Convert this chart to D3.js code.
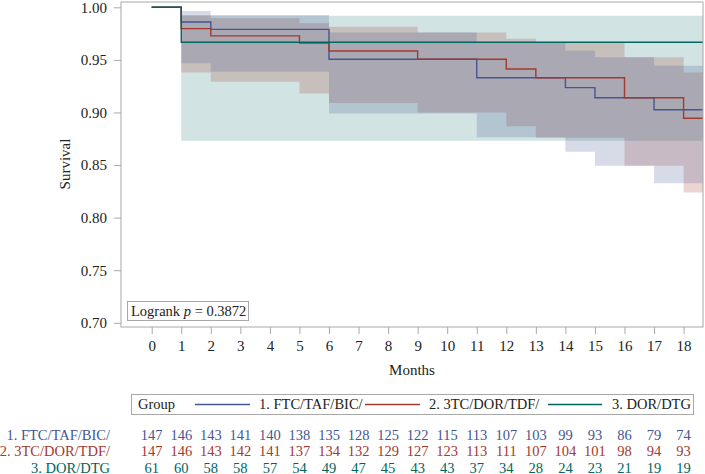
<!DOCTYPE html>
<html><head><meta charset="utf-8">
<script src="https://cdn.jsdelivr.net/npm/d3@7"></script>
<style>body{margin:0;background:#fff}svg{display:block}text{font-family:"Liberation Serif","DejaVu Serif",serif}</style>
</head><body><svg id="c" width="705" height="474"></svg>
<script>
// ---- data ----
const xTicks = [0,1,2,3,4,5,6,7,8,9,10,11,12,13,14,15,16,17,18];
const yTicks = [0.70,0.75,0.80,0.85,0.90,0.95,1.00];
const maxFollowUp = 18.66;
const groupNames = ["1. FTC/TAF/BIC/","2. 3TC/DOR/TDF/","3. DOR/DTG"];
const colors = ["#445694","#A23A2E","#01665E"];

const blueTime = [0,1,2,6,11,14,15,17];
const blueSurv = [1,0.986,0.979,0.9506,0.933,0.9236,0.914,0.9026];
const blueLow  = [1,0.9468,0.9388,0.899,0.8764,0.8627,0.8494,0.8327];
const blueHigh = [1,0.9965,0.9927,0.976,0.966,0.9588,0.9525,0.9445];

const redTime = [0,1,2,5,6,9,12,13,16,18];
const redSurv = [1,0.9797,0.9728,0.966,0.9585,0.9506,0.9413,0.933,0.914,0.8945];
const redLow  = [1,0.938,0.9293,0.918,0.909,0.900,0.887,0.876,0.8494,0.8238];
const redHigh = [1,0.9927,0.9895,0.9848,0.9816,0.976,0.970,0.966,0.9525,0.938];

const tealTime = [0,1];
const tealSurv = [1,0.9667];
const tealLow  = [1,0.873];
const tealHigh = [1,0.992];

const atRiskBlue = [147,146,143,141,140,138,135,128,125,122,115,113,107,103,99,93,86,79,74];
const atRiskRed  = [147,146,143,142,141,137,134,132,129,127,123,113,111,107,104,101,98,94,93];
const atRiskTeal = [61,60,58,58,57,54,49,47,45,43,43,37,34,28,24,23,21,19,19];

const logrankP = "0.3872";

// ---- build ----
const svg = d3.select("#c");
const L = 121, R = 703, T = 2, B = 327;
const x = d3.scaleLinear().domain([0,18]).range([151.7,683.6]);
const y = d3.scaleLinear().domain([0.70,1.00]).range([322.8,7.3]);

function mk(time,s,lo,hi){
  const pts = time.map((t,i)=>({t,s:s[i],lo:lo[i],hi:hi[i]}));
  const last = pts[pts.length-1];
  pts.push({t:maxFollowUp,s:last.s,lo:last.lo,hi:last.hi});
  return pts;
}
const series = [
  {pts:mk(blueTime,blueSurv,blueLow,blueHigh), c:colors[0]},
  {pts:mk(redTime,redSurv,redLow,redHigh), c:colors[1]},
  {pts:mk(tealTime,tealSurv,tealLow,tealHigh), c:colors[2]}
];

svg.append("clipPath").attr("id","clip").append("rect").attr("x",L).attr("y",T).attr("width",R-L).attr("height",B-T);
const plot = svg.append("g").attr("clip-path","url(#clip)");

const area = d3.area().curve(d3.curveStepAfter).x(d=>x(d.t)).y0(d=>y(d.lo)).y1(d=>y(d.hi));
const line = d3.line().curve(d3.curveStepAfter).x(d=>x(d.t)).y(d=>y(d.s));

const bandOrder = [2,1,0];
const bandOp = [0.21,0.21,0.18];
bandOrder.forEach(i=>{
  plot.append("path").attr("d",area(series[i].pts)).attr("fill",series[i].c).attr("fill-opacity",bandOp[i]).attr("stroke","none");
});
[0,1,2].forEach(i=>{
  plot.append("path").attr("d",line(series[i].pts)).attr("fill","none").attr("stroke",series[i].c).attr("stroke-width",1.4);
});

// frame
svg.append("rect").attr("x",L).attr("y",T).attr("width",R-L).attr("height",B-T).attr("fill","none").attr("stroke","#a8a8a8").attr("stroke-width",1);

// y axis
const yAx = svg.append("g").attr("transform",`translate(${L},0)`)
  .call(d3.axisLeft(y).tickValues(yTicks).tickFormat(d3.format(".2f")).tickSize(7).tickPadding(7));
yAx.select(".domain").remove();
yAx.selectAll("line").attr("stroke","#a8a8a8");
yAx.selectAll("text").attr("font-size",15).attr("fill","#222").attr("font-family","Liberation Serif");

// x axis
const xAx = svg.append("g").attr("transform",`translate(0,${B})`)
  .call(d3.axisBottom(x).tickValues(xTicks).tickFormat(d3.format("d")).tickSize(7).tickPadding(6));
xAx.select(".domain").remove();
xAx.selectAll("line").attr("stroke","#a8a8a8");
xAx.selectAll("text").attr("font-size",15).attr("fill","#222").attr("font-family","Liberation Serif");

svg.append("text").attr("x",(L+R)/2).attr("y",375).attr("text-anchor","middle").attr("font-size",15).attr("fill","#222").text("Months");
svg.append("text").attr("transform","translate(70,164) rotate(-90)").attr("text-anchor","middle").attr("font-size",15).attr("fill","#222").text("Survival");

// logrank box
svg.append("rect").attr("x",127.5).attr("y",301.5).attr("width",121).attr("height",19).attr("fill","#fff").attr("stroke","#a8a8a8");
const lt = svg.append("text").attr("x",131).attr("y",316).attr("font-size",14.5).attr("fill","#222");
lt.append("tspan").text("Logrank ");
lt.append("tspan").attr("font-style","italic").text("p");
lt.append("tspan").text(" = " + logrankP);

// legend
svg.append("rect").attr("x",131.5).attr("y",394.5).attr("width",562).attr("height",20).attr("fill","none").attr("stroke","#a8a8a8");
svg.append("text").attr("x",138).attr("y",409).attr("font-size",14.5).attr("fill","#222").text("Group");
const legX = [[195,250,259],[365,420,429],[548,602,612]];
groupNames.forEach((g,i)=>{
  svg.append("line").attr("x1",legX[i][0]).attr("x2",legX[i][1]).attr("y1",404.5).attr("y2",404.5).attr("stroke",colors[i]).attr("stroke-width",1.3);
  svg.append("text").attr("x",legX[i][2]).attr("y",409).attr("font-size",14.5).attr("fill","#222").text(g);
});

// at-risk table
const rows = [atRiskBlue, atRiskRed, atRiskTeal];
const rowY = [439.5,456,472.5];
rows.forEach((r,i)=>{
  svg.append("text").attr("x",110).attr("y",rowY[i]).attr("text-anchor","end").attr("font-size",14.5).attr("fill",colors[i]).text(groupNames[i]);
  svg.append("g").selectAll("text").data(r).join("text")
    .attr("x",(d,j)=>x(xTicks[j])).attr("y",rowY[i]).attr("text-anchor","middle")
    .attr("font-size",14.5).attr("fill",colors[i]).text(d=>d);
});
</script></body></html>
